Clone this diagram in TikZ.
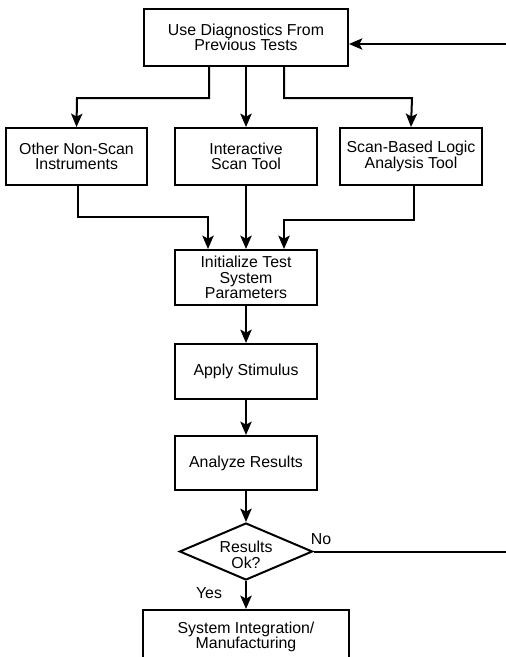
\documentclass[tikz,border=0pt]{standalone}
\usepackage{fontspec}
\setmainfont{Liberation Sans}
\usetikzlibrary{arrows.meta,shapes.geometric}
\begin{document}
\begin{tikzpicture}[x=0.75pt,y=-0.75pt,
  txt/.style={font=\fontsize{11.9}{11.6}\selectfont},
  box/.style={draw,line width=1.5pt,align=center,inner sep=0pt,txt},
  decision/.style={draw,line width=1.5pt,diamond,inner sep=0pt,
    shape aspect=2.33,minimum width=99.75pt,minimum height=42.75pt},
  conn/.style={line width=1.5pt,-{Stealth[length=10pt,width=8.5pt,inset=2.2pt]}},
  plain/.style={line width=1.5pt},
  lbl/.style={txt,inner sep=0pt}]
\useasboundingbox (0,0) rectangle (506,657);
\node[box,minimum width=153pt,minimum height=42.75pt] (top) at (246,37.5) {Use Diagnostics From\\Previous Tests};
\node[box,minimum width=105.75pt,minimum height=42.75pt] (other) at (76.5,156.5) {Other Non-Scan\\Instruments};
\node[box,minimum width=106.5pt,minimum height=42.75pt] (inter) at (246,156.5) {Interactive\\Scan Tool};
\node[box,minimum width=106.5pt,minimum height=42.75pt] (scanb) at (411,156.5) {Scan-Based Logic\\Analysis Tool};
\node[box,minimum width=106.5pt,minimum height=41.25pt] (init) at (246,277.5) {Initialize Test\\System\\Parameters};
\node[box,minimum width=106.5pt,minimum height=41.25pt] (apply) at (246,371.5) {Apply Stimulus};
\node[box,minimum width=106.5pt,minimum height=40.5pt] (analyze) at (246,463) {Analyze Results};
\node[decision,label={[lbl,align=center,yshift=-2.5pt]center:Results\\Ok?}] (ok) at (246,551.5) {};
\node[box,minimum width=154.5pt,minimum height=40.5pt,anchor=north] (sys) at (246,609) {System Integration/\\Manufacturing};
\node[lbl] (no) at (321,539) {No};
\node[lbl] (yes) at (209,593) {Yes};
\coordinate (noEnd) at (506,551.5);
\coordinate (fbStart) at (506,44);
% top to row 2
\draw[conn] ([xshift=-37*0.75pt]top.south) |- (77,98) -- (other.north);
\draw[conn] (top.south) -- (inter.north);
\draw[conn] ([xshift=38*0.75pt]top.south) |- (412,98) -- (scanb.north);
% row 2 to init
\draw[conn] ([xshift=1.5*0.75pt]other.south) |- (208,217) -- ([xshift=-38*0.75pt]init.north);
\draw[conn] (inter.south) -- (init.north);
\draw[conn] ([xshift=3*0.75pt]scanb.south) |- (284,220) -- ([xshift=38*0.75pt]init.north);
% chain
\draw[conn] (init.south) -- (apply.north);
\draw[conn] (apply.south) -- (analyze.north);
\draw[conn] (analyze.south) -- (ok.north);
\draw[conn] (ok.south) -- (sys.north);
% feedback
\draw[plain] (ok.east) -- (noEnd);
\draw[conn] (fbStart) -- (top.east |- fbStart);
\end{tikzpicture}
\end{document}
